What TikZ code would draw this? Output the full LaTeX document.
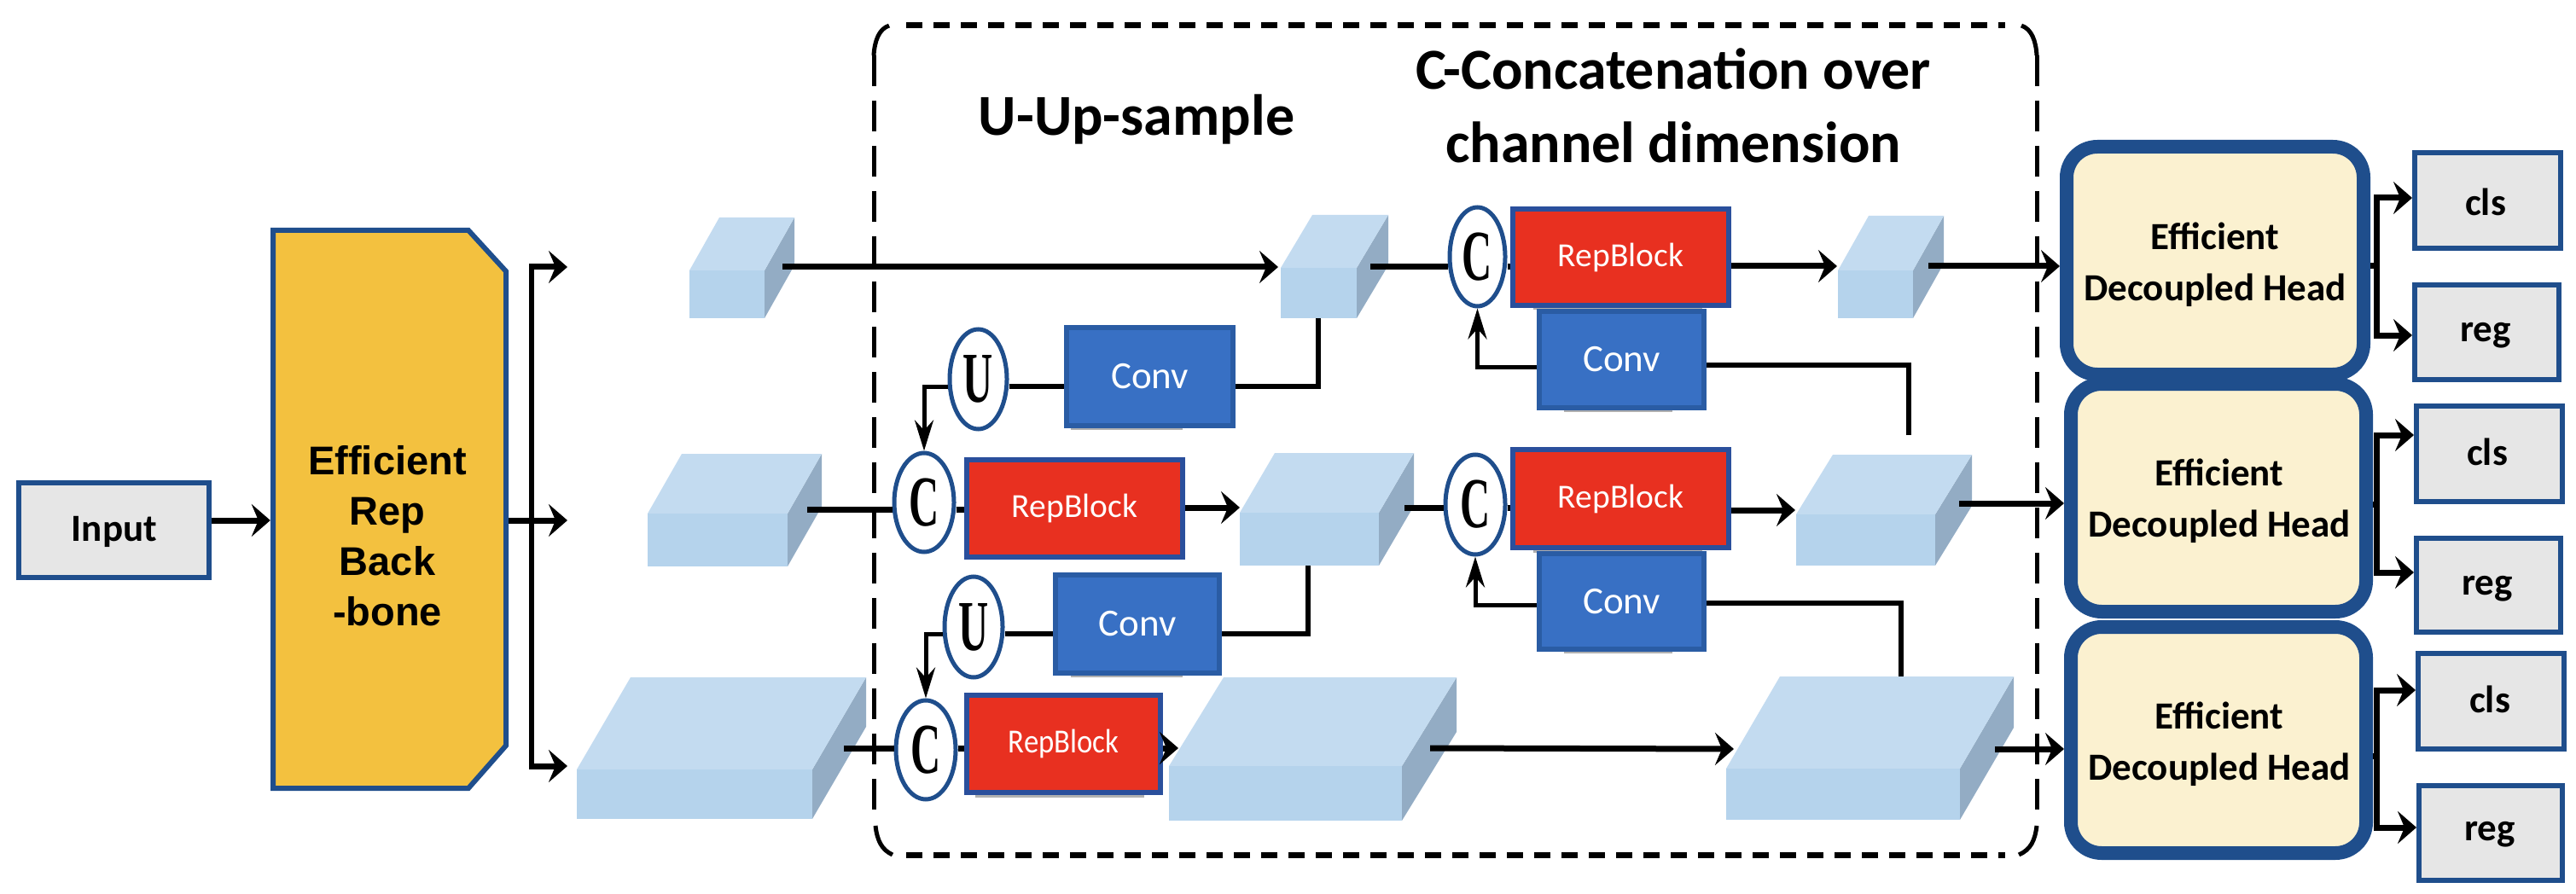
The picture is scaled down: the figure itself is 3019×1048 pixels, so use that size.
\documentclass[tikz,border=0pt]{standalone}
\usepackage{fontspec}
\setmainfont{Carlito}
\newfontfamily\arialf{Liberation Sans}
\newfontfamily\timesf{Liberation Serif}
\usetikzlibrary{arrows.meta,shapes.geometric}
\definecolor{bdblue}{HTML}{1F4E8C}
\definecolor{cubetop}{HTML}{C3DBF0}
\definecolor{cubefront}{HTML}{B5D3EC}
\definecolor{cubeside}{HTML}{93ACC4}
\definecolor{bbfill}{HTML}{F3C13F}
\definecolor{repred}{HTML}{E83020}
\definecolor{repbd}{HTML}{2A4F9C}
\definecolor{convfill}{HTML}{3870C4}
\definecolor{convbd}{HTML}{2A5CA4}
\definecolor{headfill}{HTML}{FBF1D0}
\definecolor{lgray}{HTML}{E6E6E6}
\definecolor{shadowgray}{HTML}{B0B0B0}
\tikzset{
  io/.style={draw=bdblue,fill=lgray,line width=6pt},
  iotxt/.style={inner sep=0pt,font=\fontsize{45}{50}\selectfont\bfseries},
  head/.style={draw=bdblue,fill=headfill,line width=16pt,rounded corners=36pt},
  headtxt/.style={inner sep=0pt,align=center,font=\fontsize{45}{60}\selectfont\bfseries},
  bbtxt/.style={inner sep=0pt,align=center,font=\fontsize{47}{59}\selectfont\arialf\bfseries},
  rep/.style={draw=repbd,fill=repred,line width=6.5pt,text=white,font=\fontsize{39.5}{44}\selectfont},
  conv/.style={draw=convbd,fill=convfill,line width=6.5pt,text=white,font=\fontsize{45}{50}\selectfont},
  op/.style={ellipse,draw=bdblue,fill=white,line width=5pt,font=\fontsize{84}{90}\selectfont\timesf},
  wire/.style={line width=5.5pt,black},
  hwire/.style={line width=7pt,black},
  arr/.style={line width=7pt,black,-{Stealth[length=22pt,width=38pt,inset=8pt]}},
  arrv/.style={line width=5pt,black,-{Stealth[length=36pt,width=22pt,inset=12pt]}},
  title/.style={inner sep=0pt,font=\fontsize{68}{86}\selectfont\bfseries,align=center},
}
\newcommand{\bx}[6]{%
  \pgfmathsetmacro\ww{#5-#3}\pgfmathsetmacro\hh{#6-#4}%
  \pgfmathsetmacro\cx{(#3+#5)/2}\pgfmathsetmacro\cy{(#4+#6)/2}%
  \node[#1,minimum width=\ww pt,minimum height=\hh pt,inner sep=0pt] (#2) at (\cx,\cy)}
% cube: x1 y1 x2 y2 dx dy (front face, then shift)
\newcommand{\cube}[6]{%
  \fill[cubeside] (#3,#2) -- (#3+#5,#2-#6) -- (#3+#5,#4-#6) -- (#3,#4) -- cycle;
  \fill[cubetop] (#1,#2) -- (#1+#5,#2-#6) -- (#3+#5,#2-#6) -- (#3,#2) -- cycle;
  \fill[cubefront] (#1,#2) rectangle (#3,#4);}
\newcommand{\opl}[1]{\scalebox{0.58}[1]{\bfseries #1}}
\begin{document}
\begin{tikzpicture}[x=1pt,y=-1pt]
\useasboundingbox (0,0) rectangle (3019,1048);
% dashed frame
\draw[line width=7pt,dash pattern=on 19pt off 13pt] (1062,30) -- (2350,30);
\draw[line width=7pt,dash pattern=on 19pt off 13pt] (1062,1002) -- (2350,1002);
\draw[line width=5pt,dash pattern=on 36pt off 17pt] (1024,65) -- (1024,965);
\draw[line width=5pt,dash pattern=on 36pt off 17pt] (2387,65) -- (2387,965);
\draw[line width=5pt] (1024,65) .. controls (1025,48) and (1030,34) .. (1042,30);
\draw[line width=5pt] (1026,968) .. controls (1028,985) and (1033,996) .. (1046,1002);
\draw[line width=5pt] (2387,65) .. controls (2386,48) and (2381,34) .. (2369,30);
\draw[line width=5pt] (2387,968) .. controls (2385,985) and (2380,996) .. (2366,1002);
% titles
\node[title] (tu) at (1332,140) {U-Up-sample};
\node[title] (tc) at (1961,124) {C-Concatenation over\\channel dimension};
% cubes
\cube{808}{317}{896}{373}{35}{62}
\cube{759}{602}{923}{664}{40}{70}
\cube{676}{902}{952}{960}{63}{108}
\cube{1501}{314}{1590}{373}{37}{62}
\cube{1453}{601}{1616}{663}{41}{70}
\cube{1370}{898}{1643}{962}{64}{104}
\cube{2154}{317}{2242}{373}{36}{64}
\cube{2105}{603}{2268}{663}{43}{70}
\cube{2023}{901}{2297}{961}{63}{108}
\coordinate (aout) at (917,313);
\coordinate (bout) at (946,597);
\coordinate (cout) at (989,877);
\coordinate (din) at (1498,313);
\coordinate (dout) at (1606,313);
\coordinate (dbot) at (1545,373);
\coordinate (ein) at (1453,595);
\coordinate (eout) at (1646,595);
\coordinate (ebot) at (1533,663);
\coordinate (fin) at (1381,877);
\coordinate (fout) at (1676,877);
\coordinate (gin) at (2032,878);
\coordinate (gout) at (2338,878);
\coordinate (gtop) at (2228,793);
\coordinate (hin) at (2104,598);
\coordinate (hout) at (2296,590);
\coordinate (htop) at (2237,510);
\coordinate (iin) at (2153,312);
\coordinate (iout) at (2260,312);
% backbone
\fill[bbfill] (320,270) -- (549,270) -- (593,318) -- (593,874) -- (549,924) -- (320,924) -- cycle;
\draw[bdblue,line width=6pt,line join=miter] (320,270) -- (549,270) -- (593,318) -- (593,874) -- (549,924) -- (320,924) -- cycle;
\bx{}{bb}{317}{267}{596}{927} {};
\node[bbtxt] (bbt) at (454,628) {Efficient\\Rep\\Back\\-bone};
\bx{io}{input}{22}{566}{245}{677} {};
\node[iotxt] (inputt) at (134,623) {Input};
% soft shadows under blocks
\fill[shadowgray] (1797,356) rectangle (1995,363);
\fill[shadowgray] (1797,640) rectangle (1995,648);
\fill[shadowgray] (1833,476) rectangle (1960,483);
\fill[shadowgray] (1833,759) rectangle (1960,766);
\fill[shadowgray] (1255,497) rectangle (1386,504);
\fill[shadowgray] (1255,787) rectangle (1386,794);
\fill[shadowgray] (1143,927) rectangle (1341,935);
% operators
\bx{op}{c1}{1699}{243}{1764}{359} {\opl{C}};
\bx{op}{u1}{1113}{386}{1180}{503} {\opl{U}};
\bx{op}{c2}{1048}{531}{1118}{647} {\opl{C}};
\bx{op}{c3}{1694}{533}{1764}{650} {\opl{C}};
\bx{op}{u2}{1107}{676}{1175}{794} {\opl{U}};
\bx{op}{c4}{1050}{821}{1120}{937} {\opl{C}};
% blocks
\bx{rep}{r1}{1773}{245}{2026}{358} {RepBlock};
\bx{rep}{r2}{1133}{539}{1386}{653} {RepBlock};
\bx{rep}{r3}{1773}{527}{2026}{642} {RepBlock};
\bx{rep}{r4}{1133}{815}{1360}{929} {\scalebox{0.88}[1]{RepBlock}};
\bx{conv}{k1}{1804}{365}{1997}{478} {Conv};
\bx{conv}{k2}{1250}{384}{1445}{499} {Conv};
\bx{conv}{k3}{1804}{649}{1997}{761} {Conv};
\bx{conv}{k4}{1237}{674}{1429}{789} {Conv};
% heads
\bx{head}{h1}{2422}{172}{2770}{439} {};
\bx{head}{h2}{2427}{450}{2773}{717} {};
\bx{head}{h3}{2427}{735}{2773}{1000} {};
\node[headtxt] (ht1) at (2596,310) {Efficient\\Decoupled Head};
\node[headtxt] (ht2) at (2601,587) {Efficient\\Decoupled Head};
\node[headtxt] (ht3) at (2601,872) {Efficient\\Decoupled Head};
% outputs
\bx{io}{cl1}{2830}{179}{3001}{291} {};
\bx{io}{re1}{2830}{334}{2999}{445} {};
\bx{io}{cl2}{2832}{476}{3003}{588} {};
\bx{io}{re2}{2832}{631}{3001}{741} {};
\bx{io}{cl3}{2834}{766}{3005}{878} {};
\bx{io}{re3}{2835}{921}{3003}{1032} {};
\node[iotxt] (clt1) at (2913,237) {cls};
\node[iotxt] (ret1) at (2913,393) {reg};
\node[iotxt] (clt2) at (2915,530) {cls};
\node[iotxt] (ret2) at (2915,690) {reg};
\node[iotxt] (clt3) at (2918,820) {cls};
\node[iotxt] (ret3) at (2918,978) {reg};
% connectors: left part
\draw[arr] (input.east |- 0,610) -- (bb.west |- 0,610);
\draw[hwire] (bb.east |- 0,610) -- (623,610);
\coordinate (busup) at (665,313);
\coordinate (busmid) at (665,610);
\coordinate (busdn) at (665,898);
\draw[arr] (623,610) -- (busmid);
\draw[arr] (623,315.5) |- (busup);
\draw[arr] (623,895.5) |- (busdn);
\draw[wire] (623,313) -- (623,898);
% long row connectors
\draw[arr] (aout) -- (din);
\draw[hwire] (bout) -- (c2.west |- bout);
\draw[hwire] (cout) -- (c4.west |- cout);
\draw[hwire] (dout) -- (c1.west |- dout);
\draw[hwire] (c1.east |- dout) -- (r1.west |- dout);
\draw[hwire] (c2.east |- bout) -- (r2.west |- bout);
\draw[hwire] (c4.east |- cout) -- (r4.west |- cout);
\draw[hwire] (eout) -- (c3.west |- eout);
\draw[hwire] (c3.east |- eout) -- (r3.west |- eout);
\draw[arr] (r2.east |- ein) -- (ein);
\draw[arr] (r4.east |- fin) -- (fin);
\draw[arr] (r1.east |- iin) -- (iin);
\draw[arr] (r3.east |- hin) -- (hin);
\draw[arr] (fout) -- (gin);
\draw[arr] (iout) -- (h1.west |- iout);
\draw[arr] (hout) -- (h2.west |- hout);
\draw[arr] (gout) -- (h3.west |- gout);
% up-sample branches
\draw[wire] (dbot) |- (k2.east |- 0,453);
\draw[wire] (k2.west |- 0,453) -- (u1.east |- 0,453);
\draw[arrv] (u1.west |- 0,453) -| (c2.north);
\draw[wire] (ebot) |- (k4.east |- 0,743);
\draw[wire] (k4.west |- 0,743) -- (u2.east |- 0,743);
\draw[arrv] (u2.west |- 0,743) -| (c4.north);
% down branches
\draw[wire] (htop) |- (k1.east |- 0,428);
\draw[arrv] (k1.west |- 0,430) -| (c1.south);
\draw[wire] (gtop) |- (k3.east |- 0,707);
\draw[arrv] (k3.west |- 0,709) -| (c3.south);
% head outputs
\draw[hwire] (h1.east |- 0,312) -- (2785,312);
\draw[hwire] (h2.east |- 0,591) -- (2785,591);
\draw[hwire] (h3.east |- 0,886) -- (2785,886);
\draw[arr] (2785,315) |- (cl1.west |- 0,232);
\draw[arr] (2785,310) |- (re1.west |- 0,393);
\draw[arr] (2785,594) |- (cl2.west |- 0,510);
\draw[arr] (2785,589) |- (re2.west |- 0,671);
\draw[arr] (2785,889) |- (cl3.west |- 0,809);
\draw[arr] (2785,884) |- (re3.west |- 0,970);
\end{tikzpicture}
\end{document}
